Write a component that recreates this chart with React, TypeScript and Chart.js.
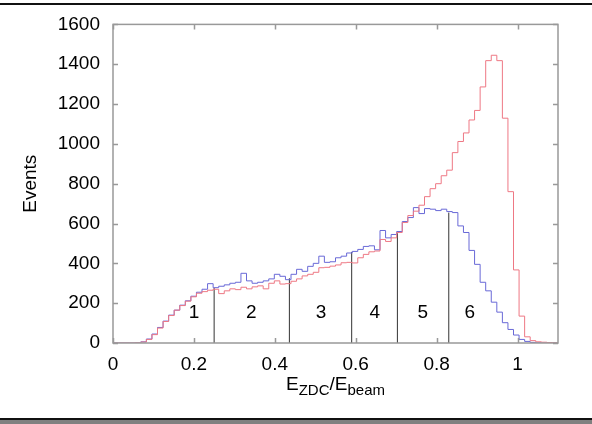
import React, { useEffect, useRef } from "react";
import { Chart, registerables } from "chart.js";

Chart.register(...registerables);

// Histogram binning (80 bins from 0 to 1.1)
const binWidth = 0.01375;

// Blue histogram (events per bin)
const blueCounts = [
  0, 0, 0, 0, 1, 6, 20, 45, 78, 110,
  140, 165, 190, 212, 235, 255, 270, 298, 278, 285,
  292, 300, 305, 350, 312, 300, 305, 312, 322, 345,
  335, 318, 345, 370, 360, 385, 400, 436, 405, 408,
  428, 436, 452, 460, 470, 485, 488, 468, 565, 528,
  545, 560, 610, 630, 680, 650, 675, 672, 665, 672,
  660, 655, 588, 555, 465, 395, 305, 262, 205, 155,
  102, 68, 40, 18, 8, 3, 1, 0, 0, 0,
];

// Red histogram (events per bin)
const redCounts = [
  0, 0, 0, 0, 1, 5, 18, 42, 75, 108,
  138, 165, 188, 210, 232, 250, 258, 265, 270, 248,
  262, 272, 268, 280, 272, 282, 287, 272, 300, 312,
  296, 298, 310, 322, 337, 345, 355, 378, 380, 386,
  392, 403, 405, 402, 428, 445, 458, 462, 520, 510,
  528, 555, 605, 640, 662, 692, 735, 775, 800, 840,
  868, 956, 1012, 1055, 1120, 1168, 1286, 1418, 1445, 1418,
  1129, 760, 367, 135, 31, 12, 6, 4, 2, 1,
];

const xTicks = [0, 0.2, 0.4, 0.6, 0.8, 1];
const xTickLabels = ["0", "0.2", "0.4", "0.6", "0.8", "1"];
const yTicks = [0, 200, 400, 600, 800, 1000, 1200, 1400, 1600];

// Region dividers (x position, height reached)
const dividerX = [0.25, 0.436, 0.59, 0.703, 0.83];
const dividerTop = [276, 325, 457, 551, 655];

// Region numbers
const regionLabels = ["1", "2", "3", "4", "5", "6"];
const regionLabelX = [0.2, 0.342, 0.514, 0.647, 0.766, 0.882];
const regionLabelY = 150;

const yTitle = "Events";
const xTitleParts = [
  { t: "E", sub: false },
  { t: "ZDC", sub: true },
  { t: "/E", sub: false },
  { t: "beam", sub: true },
];

const FONT = "'Liberation Sans', Arial, Helvetica, sans-serif";

function toSteps(counts: number[]) {
  const pts = counts.map((v, i) => ({ x: i * binWidth, y: v }));
  pts.push({ x: counts.length * binWidth, y: counts[counts.length - 1] });
  return pts;
}

const framePlugin = {
  id: "framePlugin",
  beforeDraw(chart: any) {
    const ctx = chart.ctx;
    ctx.save();
    ctx.fillStyle = "#ffffff";
    ctx.fillRect(0, 0, chart.width, chart.height);
    ctx.restore();
  },
  afterDatasetsDraw(chart: any) {
    const ctx = chart.ctx;
    const { left, right, top, bottom } = chart.chartArea;
    const xs = chart.scales.x;
    const ys = chart.scales.y;
    ctx.save();
    // plot box
    ctx.strokeStyle = "#999999";
    ctx.lineWidth = 1.5;
    ctx.strokeRect(left, top, right - left, bottom - top);
    // inward ticks on all sides
    ctx.beginPath();
    xTicks.forEach((v) => {
      const px = Math.round(xs.getPixelForValue(v)) + 0.5;
      ctx.moveTo(px, bottom);
      ctx.lineTo(px, bottom - 5);
      ctx.moveTo(px, top);
      ctx.lineTo(px, top + 5);
    });
    yTicks.forEach((v) => {
      const py = Math.round(ys.getPixelForValue(v)) + 0.5;
      ctx.moveTo(left, py);
      ctx.lineTo(left + 5, py);
      ctx.moveTo(right, py);
      ctx.lineTo(right - 5, py);
    });
    ctx.stroke();

    // region numbers
    ctx.fillStyle = "#000000";
    ctx.font = `19px ${FONT}`;
    ctx.textAlign = "center";
    ctx.textBaseline = "middle";
    regionLabels.forEach((t, i) => {
      ctx.fillText(t, xs.getPixelForValue(regionLabelX[i]), ys.getPixelForValue(regionLabelY));
    });

    // y title
    ctx.save();
    ctx.translate(31, (top + bottom) / 2);
    ctx.rotate(-Math.PI / 2);
    ctx.textAlign = "center";
    ctx.textBaseline = "middle";
    ctx.font = `19px ${FONT}`;
    ctx.fillText(yTitle, 0, 0);
    ctx.restore();

    // x title with subscripts
    const mainFont = `19px ${FONT}`;
    const subFont = `15px ${FONT}`;
    let total = 0;
    xTitleParts.forEach((p) => {
      ctx.font = p.sub ? subFont : mainFont;
      total += ctx.measureText(p.t).width;
    });
    let cx = (left + right) / 2 - total / 2;
    const baseY = 390;
    ctx.textAlign = "left";
    ctx.textBaseline = "alphabetic";
    xTitleParts.forEach((p) => {
      ctx.font = p.sub ? subFont : mainFont;
      ctx.fillText(p.t, cx, p.sub ? baseY + 5 : baseY);
      cx += ctx.measureText(p.t).width;
    });

    // outer frame lines
    ctx.fillStyle = "#111111";
    ctx.fillRect(0, 3, chart.width, 2);
    ctx.fillRect(0, 418, chart.width, 2);
    ctx.fillStyle = "#808080";
    ctx.fillRect(0, 420, chart.width, 4);
    ctx.restore();
  },
};

export default function App() {
  const canvasRef = useRef<HTMLCanvasElement | null>(null);

  useEffect(() => {
    if (!canvasRef.current) return;
    const dividerSets = dividerX.map((xv, i) => ({
      label: `divider${i + 1}`,
      data: [
        { x: xv, y: 0 },
        { x: xv, y: dividerTop[i] },
      ],
      borderColor: "#333333",
      borderWidth: 1,
      pointRadius: 0,
      fill: false,
      tension: 0,
    }));
    const chart = new Chart(canvasRef.current, {
      type: "line",
      data: {
        datasets: [
          {
            label: "red",
            data: toSteps(redCounts),
            borderColor: "rgb(238,120,132)",
            borderWidth: 1,
            pointRadius: 0,
            stepped: true,
            fill: false,
          },
          {
            label: "blue",
            data: toSteps(blueCounts),
            borderColor: "rgb(105,105,215)",
            borderWidth: 1,
            pointRadius: 0,
            stepped: true,
            fill: false,
          },
          ...dividerSets,
        ],
      },
      options: {
        responsive: false,
        animation: false,
        devicePixelRatio: 1,
        layout: { padding: { top: 20, right: 34, bottom: 0, left: 0 } },
        plugins: {
          legend: { display: false },
          tooltip: { enabled: false },
          title: { display: false },
        },
        scales: {
          x: {
            type: "linear",
            min: 0,
            max: 1.1,
            grid: { display: false, drawTicks: false },
            border: { display: false },
            afterBuildTicks: (scale: any) => {
              scale.ticks = xTicks.map((v) => ({ value: v }));
            },
            afterFit: (scale: any) => {
              scale.height = 81;
            },
            ticks: {
              padding: 10,
              color: "#000000",
              font: { size: 19, family: FONT },
              maxRotation: 0,
              autoSkip: false,
              callback: (value: any) => {
                const idx = xTicks.findIndex((t) => Math.abs(t - Number(value)) < 1e-9);
                return idx >= 0 ? xTickLabels[idx] : "";
              },
            },
          },
          y: {
            type: "linear",
            min: 0,
            max: 1600,
            grid: { display: false, drawTicks: false },
            border: { display: false },
            afterBuildTicks: (scale: any) => {
              scale.ticks = yTicks.map((v) => ({ value: v }));
            },
            afterFit: (scale: any) => {
              scale.width = 113;
            },
            ticks: {
              padding: 13,
              color: "#000000",
              font: { size: 19, family: FONT },
              autoSkip: false,
              callback: (value: any) => String(value),
            },
          },
        },
      } as any,
      plugins: [framePlugin],
    });
    return () => chart.destroy();
  }, []);

  return (
    <div style={{ position: "fixed", left: 0, top: 0, width: 592, height: 424, background: "#fff" }}>
      <canvas ref={canvasRef} width={592} height={424} style={{ display: "block", width: 592, height: 424 }} />
    </div>
  );
}
